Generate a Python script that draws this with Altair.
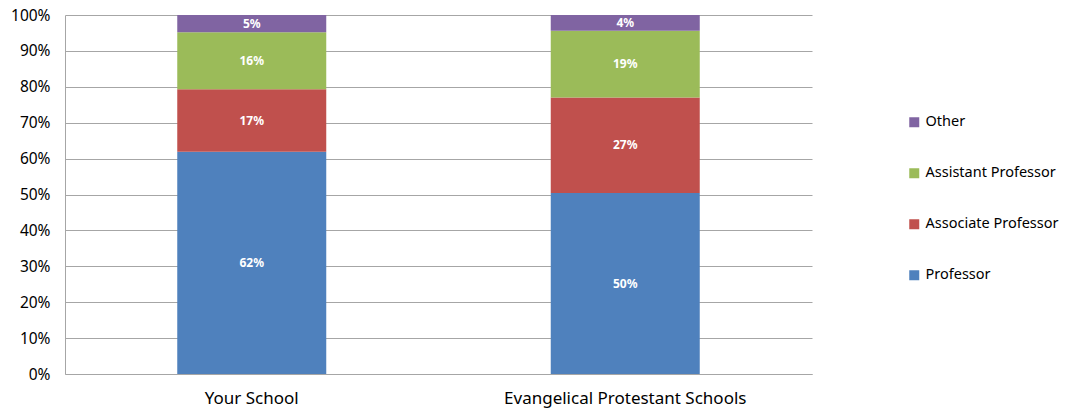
import altair as alt
import pandas as pd

schools = ["Your School", "Evangelical Protestant Schools"]
ranks = ["Professor", "Associate Professor", "Assistant Professor", "Other"]
your_school = [61.9, 17.4, 15.9, 4.8]
evangelical = [50.4, 26.6, 18.6, 4.4]
colors = ["#4F81BD", "#C0504D", "#9BBB59", "#8064A2"]
y_ticks = [0, 10, 20, 30, 40, 50, 60, 70, 80, 90, 100]

rows = []
for s, vals in zip(schools, [your_school, evangelical]):
    for i, (r, v) in enumerate(zip(ranks, vals)):
        rows.append({"school": s, "rank": r, "value": v, "ord": i, "label": f"{round(v)}%"})
df = pd.DataFrame(rows)

FONT = "Noto Sans"
legend_order = ["Other", "Assistant Professor", "Associate Professor", "Professor"]
legend_colors = [colors[ranks.index(r)] for r in legend_order]

base = alt.Chart(df).transform_stack(
    stack="value", groupby=["school"], sort=[alt.SortField("ord", order="ascending")], as_=["y0", "y1"]
).transform_calculate(mid="(datum.y0 + datum.y1) / 2")

x_axis = alt.Axis(labelAngle=0, labelFont=FONT, labelFontSize=17, labelColor="#000000",
                  ticks=False, domainColor="#A6A6A6", labelPadding=16, grid=False, labelLimit=0)
x_scale = alt.Scale(paddingInner=0.0, paddingOuter=0.0)

y_scale = alt.Scale(domain=[0, 100], nice=False)
y_axis = alt.Axis(values=y_ticks, labelExpr="datum.value + '%'", labelFont=FONT,
                  labelFontSize=15.5, labelColor="#000000", ticks=False, labelOverlap=False,
                  domainColor="#A6A6A6", gridColor="#A6A6A6", labelPadding=15, tickCount=11)
blank_axis = alt.Axis(domain=False, labels=False, ticks=False, grid=False, title=None)

bars = base.mark_bar(size=149).encode(
    x=alt.X("school:N", sort=schools, title=None, scale=x_scale, axis=x_axis),
    y=alt.Y("y0:Q", title=None, scale=y_scale, axis=y_axis),
    y2="y1:Q",
    color=alt.Color("rank:N", scale=alt.Scale(domain=legend_order, range=legend_colors),
                    legend=alt.Legend(title=None, orient="none", legendX=842, legendY=100,
                                      labelFont=FONT, labelFontSize=14.5, labelColor="#000000",
                                      symbolType="square", symbolSize=100, symbolStrokeWidth=0,
                                      rowPadding=36, labelOffset=4, labelLimit=0)),
)

texts = base.mark_text(font=FONT, fontSize=12, fontWeight="bold", color="white").encode(
    x=alt.X("school:N", sort=schools, title=None, scale=x_scale, axis=blank_axis),
    y=alt.Y("mid:Q", title=None, scale=y_scale, axis=blank_axis),
    text="label:N",
)

chart = alt.layer(bars, texts).resolve_axis(x="independent", y="independent").properties(
    width=747, height=359,
    background="white",
    view=alt.ViewBackground(stroke="transparent", strokeWidth=0),
    autosize=alt.AutoSizeParams(type="none"),
    padding={"left": 57, "top": 7, "right": 252, "bottom": 40},
).configure_view(strokeWidth=0, stroke="transparent")

chart.save("out.html", embed_options={"renderer": "svg", "actions": False})
